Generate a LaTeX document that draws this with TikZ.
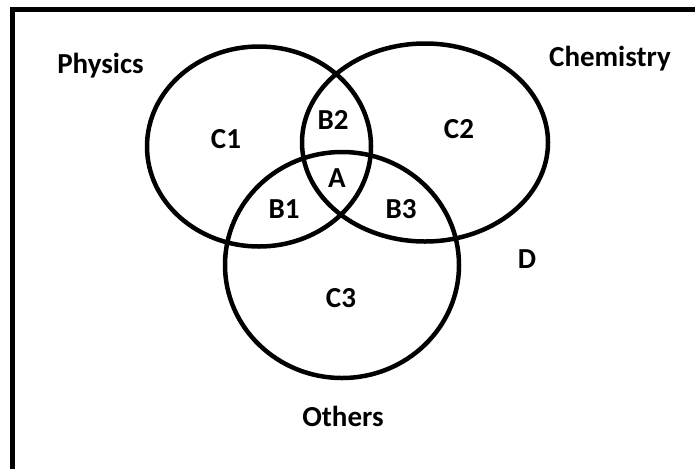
\documentclass[tikz,border=0pt]{standalone}
\usepackage{fontspec}
\setmainfont{Carlito}
\begin{document}
\begin{tikzpicture}[x=1pt,y=-1pt,
  setline/.style={line width=4.5pt},
  lbl/.style={anchor=base,inner sep=0pt,font=\fontsize{29}{31}\selectfont\bfseries}]
\useasboundingbox (0,0) rectangle (695,469);
\fill[white] (0,0) rectangle (695,469);
\draw[line width=4.6pt] (12.5,469) -- (12.5,9.5) -- (695,9.5);
\draw[setline] (259,146.5) ellipse [x radius=112, y radius=100];
\draw[setline] (425,142.5) ellipse [x radius=123, y radius=99];
\draw[setline] (342,265) ellipse [x radius=117, y radius=113];
\node[lbl] (phys) at (100.5,73) {Physics};
\node[lbl] (chem) at (610,66) {Chemistry};
\node[lbl] (oth) at (343,426) {Others};
\node[lbl] (c1) at (226,148) {C1};
\node[lbl] (b2) at (333,129) {B2};
\node[lbl] (c2) at (459,138) {C2};
\node[lbl] (a) at (337,187) {A};
\node[lbl] (b1) at (284,218) {B1};
\node[lbl] (b3) at (401,218) {B3};
\node[lbl] (c3) at (341,307) {C3};
\node[lbl] (d) at (527,268) {D};
\end{tikzpicture}
\end{document}
